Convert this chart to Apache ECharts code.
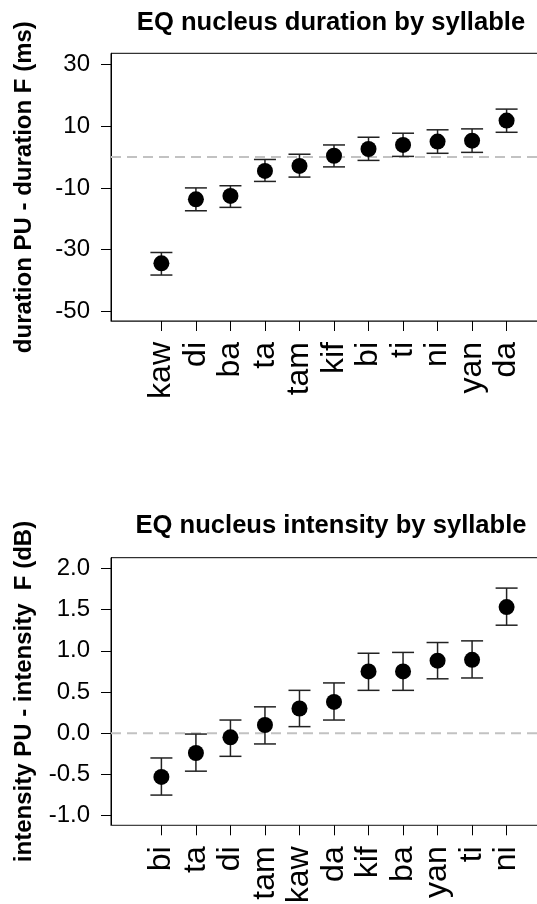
<!DOCTYPE html>
<html>
<head>
<meta charset="utf-8">
<script src="https://cdn.jsdelivr.net/npm/echarts@6/dist/echarts.min.js"></script>
<style>
html,body{margin:0;padding:0;background:#fff;}
#chart{width:537px;height:904px;}
</style>
</head>
<body>
<div id="chart"></div>
<script>
// ---- Data: duration chart ----
const durCats = ['kaw','di','ba','ta','tam','kif','bi','ti','ni','yan','da'];
const durMean = [-34.4, -13.7, -12.6, -4.5, -2.9, 0.4, 2.6, 3.9, 5.0, 5.3, 11.8];
const durLow  = [-38.2, -17.4, -16.3, -7.9, -6.5, -3.2, -1.1, 0.2, 1.2, 1.5, 8.0];
const durHigh = [-30.9, -10.0, -9.3, -0.8, 0.9, 3.9, 6.4, 7.7, 8.8, 9.1, 15.5];
const durTicks = [-50, -30, -10, 10, 30];

// ---- Data: intensity chart ----
const intCats = ['bi','ta','di','tam','kaw','da','kif','ba','yan','ti','ni'];
const intMean = [-0.53, -0.24, -0.05, 0.10, 0.30, 0.38, 0.75, 0.75, 0.88, 0.89, 1.53];
const intLow  = [-0.75, -0.46, -0.28, -0.13, 0.08, 0.16, 0.52, 0.52, 0.66, 0.67, 1.31];
const intHigh = [-0.30, -0.01, 0.16, 0.32, 0.52, 0.61, 0.97, 0.98, 1.10, 1.12, 1.76];
const intTicks = [-1.0, -0.5, 0.0, 0.5, 1.0, 1.5, 2.0];

// reference line value (difference = 0)
const refValue = [0];

const titles = ['EQ nucleus duration by syllable', 'EQ nucleus intensity by syllable'];
const yNames = ['duration PU - duration F (ms)', 'intensity PU - intensity  F (dB)'];

const FONT = '"Liberation Sans", Arial, Helvetica, sans-serif';
const xPos = durCats.map((_, i) => i + 1);

function errItem(params, api) {
  const x = api.value(0), lo = api.value(1), hi = api.value(2);
  const pLo = api.coord([x, lo]);
  const pHi = api.coord([x, hi]);
  const hw = 11;
  const style = { stroke: '#222', lineWidth: 1.5 };
  return {
    type: 'group',
    children: [
      { type: 'line', shape: { x1: pLo[0], y1: pLo[1], x2: pHi[0], y2: pHi[1] }, style },
      { type: 'line', shape: { x1: pLo[0] - hw, y1: pLo[1], x2: pLo[0] + hw, y2: pLo[1] }, style },
      { type: 'line', shape: { x1: pHi[0] - hw, y1: pHi[1], x2: pHi[0] + hw, y2: pHi[1] }, style }
    ]
  };
}

function refItem(params, api) {
  const cs = params.coordSys;
  const y = api.coord([1, api.value(0)])[1];
  return {
    type: 'line',
    shape: { x1: cs.x, y1: y, x2: cs.x + cs.width, y2: y },
    style: { stroke: '#c2c2c2', lineWidth: 2, lineDash: [10, 6] }
  };
}

function xAxisFor(gridIndex, cats) {
  return {
    type: 'value', gridIndex, min: -0.46, max: 12.46,
    axisLine: { show: true, onZero: false, lineStyle: { color: '#444', width: 1 } },
    axisTick: { show: true, length: 10, customValues: xPos, lineStyle: { color: '#000', width: 1 } },
    axisLabel: {
      customValues: xPos, rotate: 90, margin: 21,
      fontFamily: FONT, fontSize: 32, color: '#000',
      formatter: v => cats[Math.round(v) - 1] || ''
    },
    splitLine: { show: false }
  };
}

function yAxisFor(gridIndex, min, max, ticks, name, fmt) {
  return {
    type: 'value', gridIndex, min, max,
    name, nameLocation: 'middle', nameGap: 75,
    nameTextStyle: { fontFamily: FONT, fontSize: 24, fontWeight: 'bold', color: '#000' },
    axisLine: { show: true, onZero: false, lineStyle: { color: '#000', width: 1 } },
    axisTick: { show: true, length: 10, customValues: ticks, lineStyle: { color: '#000', width: 1 } },
    axisLabel: { customValues: ticks, margin: 21, fontFamily: FONT, fontSize: 24, color: '#000', formatter: fmt },
    splitLine: { show: false }
  };
}

const gridBase = { left: 111, width: 446, show: true, borderColor: '#000', borderWidth: 1, outerBoundsMode: 'none', containLabel: false };

const option = {
  animation: false,
  backgroundColor: '#fff',
  grid: [
    Object.assign({}, gridBase, { top: 53.3, height: 267.7 }),
    Object.assign({}, gridBase, { top: 557.7, height: 267.6 })
  ],
  xAxis: [xAxisFor(0, durCats), xAxisFor(1, intCats)],
  yAxis: [
    yAxisFor(0, -53.07, 33.56, durTicks, yNames[0], v => String(v)),
    yAxisFor(1, -1.1164, 2.1285, intTicks, yNames[1], v => v.toFixed(1))
  ],
  graphic: [
    { type: 'text', x: 331, y: 23, style: { text: titles[0], fontFamily: FONT, fontSize: 25.6, fontWeight: 'bold', fill: '#000', textAlign: 'center', textVerticalAlign: 'middle' } },
    { type: 'text', x: 331, y: 526, style: { text: titles[1], fontFamily: FONT, fontSize: 25.6, fontWeight: 'bold', fill: '#000', textAlign: 'center', textVerticalAlign: 'middle' } }
  ],
  series: [
    { type: 'custom', xAxisIndex: 0, yAxisIndex: 0, renderItem: refItem, z: 2, silent: true, data: refValue.map(v => [v]) },
    {
      type: 'custom', xAxisIndex: 0, yAxisIndex: 0, renderItem: errItem, z: 3,
      data: xPos.map((x, i) => [x, durLow[i], durHigh[i]])
    },
    {
      type: 'scatter', xAxisIndex: 0, yAxisIndex: 0, symbol: 'circle', symbolSize: 16, z: 5,
      itemStyle: { color: '#000', opacity: 1 },
      data: xPos.map((x, i) => [x, durMean[i]])
    },
    { type: 'custom', xAxisIndex: 1, yAxisIndex: 1, renderItem: refItem, z: 2, silent: true, data: refValue.map(v => [v]) },
    {
      type: 'custom', xAxisIndex: 1, yAxisIndex: 1, renderItem: errItem, z: 3,
      data: xPos.map((x, i) => [x, intLow[i], intHigh[i]])
    },
    {
      type: 'scatter', xAxisIndex: 1, yAxisIndex: 1, symbol: 'circle', symbolSize: 16, z: 5,
      itemStyle: { color: '#000', opacity: 1 },
      data: xPos.map((x, i) => [x, intMean[i]])
    }
  ]
};

const chart = echarts.init(document.getElementById('chart'), null, { renderer: 'canvas' });
chart.setOption(option);
</script>
</body>
</html>
